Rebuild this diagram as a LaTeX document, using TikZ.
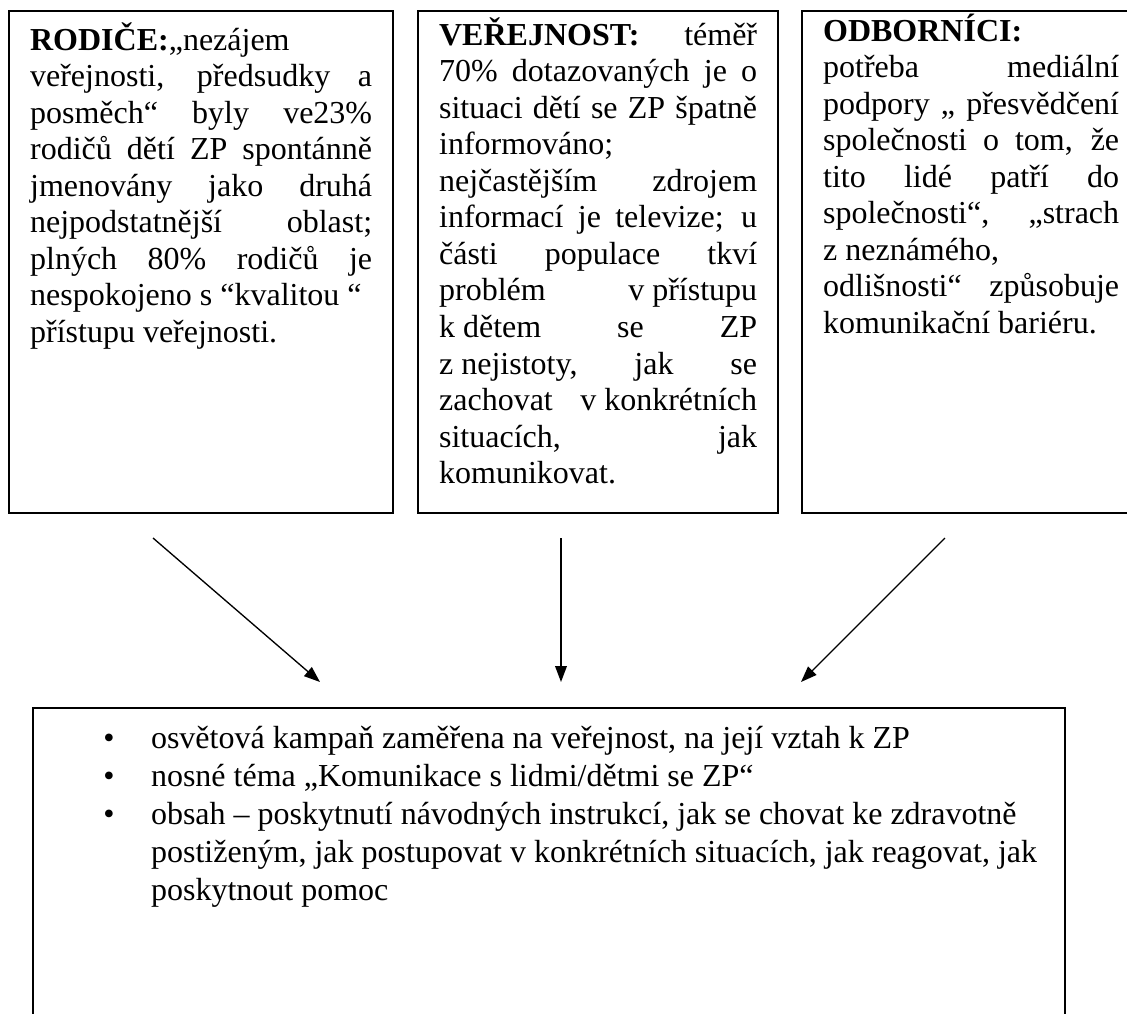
\documentclass[tikz,border=0pt]{standalone}
\usepackage{fontspec}
\setmainfont{Liberation Serif}
\usetikzlibrary{arrows.meta}
\newcommand{\boxbody}[3]{%
    \parbox[t][188.2pt][t]{#1}{\tolerance=10000 \hyphenpenalty=10000
        \prevdepth=#2\relax #3}}
\tikzset{
    % Filled tips as in the original sheet
    >={Triangle[length=6pt, width=4.4pt]},
%
    % Frames round the three groups asked
    group/.style={
        draw, line width=0.8pt, anchor=north west,
        inner xsep=7.9pt, inner ysep=0pt,
        font=\fontsize{12}{13.7}\selectfont},
    % Frame of the resulting measures
    outcome/.style={
        draw, line width=0.8pt, anchor=north west,
        inner sep=0pt, font=\fontsize{12}{14.25}\selectfont},
    link/.style={->, line width=0.5pt},
}
\newcommand{\point}{\leavevmode\llap{\textbullet\hspace{13.65pt}}}

\begin{document}
\begin{tikzpicture}[x=0.375pt, y=-0.375pt]
\useasboundingbox (0,0) rectangle (1127,1014);

\path
    (8,10) node [group] (rodice) {\boxbody{128.25pt}{-0.9pt}{%
        \textbf{RODIČE:}„nezájem\newline
        veřejnosti, předsudky a\linebreak
        posměch“ byly ve23\%\linebreak
        rodičů dětí ZP spontánně\linebreak
        jmenovány jako druhá\linebreak
        nejpodstatnější oblast;\linebreak
        plných 80\% rodičů je\linebreak
        nespokojeno s “kvalitou “\newline
        přístupu veřejnosti.}}
    (417,10) node [group] (verejnost) {\boxbody{119.25pt}{0.9pt}{%
        \textbf{VEŘEJNOST:} téměř\linebreak
        70\% dotazovaných je o\linebreak
        situaci dětí se ZP špatně\linebreak
        informováno;\newline
        nejčastějším zdrojem\linebreak
        informací je televize; u\linebreak
        části populace tkví\linebreak
        problém \mbox{v přístupu}\linebreak
        \mbox{k dětem} se ZP\linebreak
        \mbox{z nejistoty,} jak se\linebreak
        zachovat \mbox{v konkrétních}\linebreak
        situacích, jak\linebreak
        komunikovat.}}
    (801,10) node [group] (odbornici) {\boxbody{111pt}{2.4pt}{%
        \textbf{ODBORNÍCI:}\newline
        potřeba mediální\linebreak
        podpory „ přesvědčení\linebreak
        společnosti o tom, že\linebreak
        tito lidé patří do\linebreak
        společnosti“, „strach\linebreak
        \mbox{z neznámého,}\newline
        odlišnosti“ způsobuje\linebreak
        komunikační bariéru.}}
    (32,707) node [outcome] (kampan) {\parbox[t][125pt][t]{387pt}{%
        \raggedright\leftskip=44.25pt\relax\prevdepth=-0.75pt\relax
        \point osvětová kampaň zaměřena na veřejnost, na její vztah k ZP\par
        \point nosné téma „Komunikace s lidmi/dětmi se ZP“\par
        \point obsah – poskytnutí návodných instrukcí, jak se chovat ke zdravotně\\
        postiženým, jak postupovat v konkrétních situacích, jak reagovat, jak\\
        poskytnout pomoc\par}};

\coordinate (rodice tail) at (153,538);
\coordinate (verejnost tail) at (561,538);
\coordinate (odbornici tail) at (945,538);
\coordinate (kampan left) at (320,682);
\coordinate (kampan mid) at (561,682);
\coordinate (kampan right) at (801,682);

\draw [link] (rodice tail) -- (kampan left);
\draw [link] (verejnost tail) -- (kampan mid);
\draw [link] (odbornici tail) -- (kampan right);

\end{tikzpicture}
\end{document}
